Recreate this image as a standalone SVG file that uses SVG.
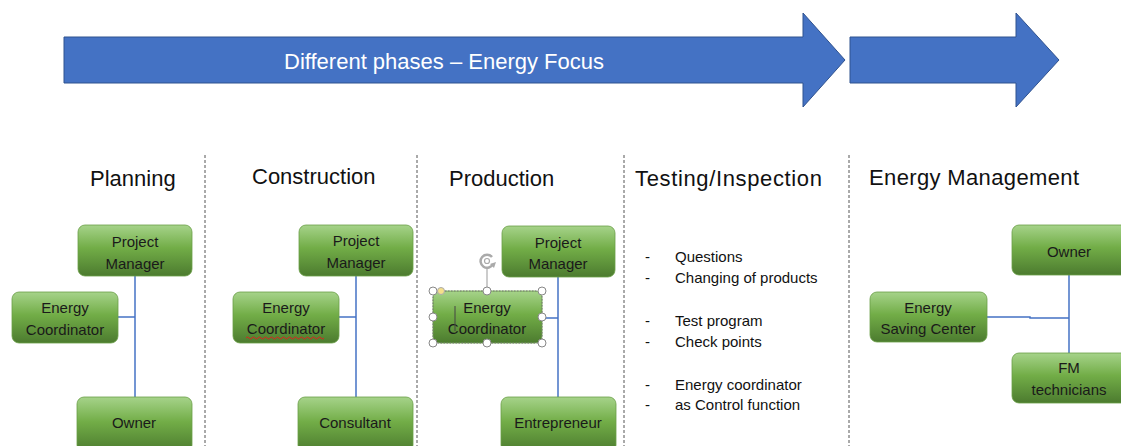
<svg xmlns="http://www.w3.org/2000/svg" width="1121" height="446" viewBox="0 0 1121 446">
<defs>
<linearGradient id="g" x1="0" y1="0" x2="0" y2="1">
<stop offset="0" stop-color="#a6d38a"/>
<stop offset="0.45" stop-color="#72ad47"/>
<stop offset="1" stop-color="#4c7b2f"/>
</linearGradient>
</defs>
<style>
.n rect{fill:url(#g);stroke:#6a9e46;stroke-width:0.8}
.n text{font-family:"Liberation Sans",Arial,sans-serif;font-size:15px;fill:#1a1a1a;text-anchor:middle}
.h{font-family:"Liberation Sans",Arial,sans-serif;font-size:22px;fill:#111}
.sep{stroke:#555;stroke-width:1;stroke-dasharray:3 2}
.c line,.c polyline{stroke:#4472c4;stroke-width:1.5;fill:none}
.t{font-family:"Liberation Sans",Arial,sans-serif;font-size:15px;fill:#111}
.hd{fill:#fff;stroke:#888;stroke-width:1}
</style>
<rect width="1121" height="446" fill="#fff"/>
<g id="arrow1">
<polygon points="64,37 803,37 803,13 845,60 803,107 803,83 64,83" fill="#4472c4" stroke="#2f528f" stroke-width="1"/>
<text x="444" y="69" font-family="Liberation Sans,Arial,sans-serif" font-size="22" fill="#fff" text-anchor="middle">Different phases – Energy Focus</text>
</g>
<g id="arrow2">
<polygon points="850,37 1016,37 1016,13 1059,60 1016,107 1016,83 850,83" fill="#4472c4" stroke="#2f528f" stroke-width="1"/>
</g>
<g id="headings">
<text class="h" x="90" y="186">Planning</text>
<text class="h" x="252" y="184">Construction</text>
<text class="h" x="449" y="186">Production</text>
<text class="h" x="635" y="186" textLength="187">Testing/Inspection</text>
<text class="h" x="869" y="185" textLength="210">Energy Management</text>
</g>
<g id="separators">
<line class="sep" x1="205" y1="155" x2="205" y2="446"/>
<line class="sep" x1="417" y1="155" x2="417" y2="446"/>
<line class="sep" x1="624" y1="155" x2="624" y2="446"/>
<line class="sep" x1="849" y1="155" x2="849" y2="446"/>
</g>
<g id="connectors" class="c">
<line x1="135" y1="276" x2="135" y2="397"/>
<line x1="118" y1="317" x2="135" y2="317"/>
<line x1="356" y1="276" x2="356" y2="397"/>
<line x1="339" y1="317" x2="356" y2="317"/>
<line x1="558" y1="277" x2="558" y2="397"/>
<line x1="542" y1="318" x2="558" y2="318"/>
<line x1="1069" y1="275" x2="1069" y2="353"/>
<polyline points="987,317 1030,317 1030,318 1069,318"/>
</g>
<g id="pl-pm" class="n"><rect x="78" y="225" width="114" height="51" rx="7"/><text x="135" y="247">Project</text><text x="135" y="269">Manager</text></g>
<g id="pl-ec" class="n"><rect x="12" y="292" width="106" height="51" rx="7"/><text x="65" y="313">Energy</text><text x="65" y="335">Coordinator</text></g>
<g id="pl-ow" class="n"><rect x="77" y="397" width="115" height="55" rx="7"/><text x="134" y="428">Owner</text></g>
<g id="co-pm" class="n"><rect x="299" y="225" width="114" height="51" rx="7"/><text x="356" y="246">Project</text><text x="356" y="268">Manager</text></g>
<g id="co-ec" class="n"><rect x="233" y="292" width="106" height="51" rx="7"/><text x="286" y="313">Energy</text><text x="286" y="334">Coordinator</text>
<path d="M246,338 q1.5,-2 3,0 t3,0 t3,0 t3,0 t3,0 t3,0 t3,0 t3,0 t3,0 t3,0 t3,0 t3,0 t3,0 t3,0 t3,0 t3,0 t3,0 t3,0 t3,0 t3,0 t3,0 t3,0 t3,0 t3,0 t3,0 t3,0" fill="none" stroke="#e02020" stroke-width="1"/></g>
<g id="co-cs" class="n"><rect x="298" y="397" width="115" height="55" rx="7"/><text x="355" y="428">Consultant</text></g>
<g id="pr-pm" class="n"><rect x="502" y="226" width="113" height="51" rx="7"/><text x="558" y="248">Project</text><text x="558" y="269">Manager</text></g>
<g id="pr-ec" class="n"><rect x="433" y="291" width="109" height="52" rx="7"/><text x="487" y="313">Energy</text><text x="487" y="334">Coordinator</text></g>
<g id="selection">
<rect x="433" y="291" width="109" height="52" fill="none" stroke="#777" stroke-width="1" stroke-dasharray="1.5 1.5"/>
<line x1="487" y1="268" x2="487" y2="291" stroke="#999" stroke-width="1"/>
<path d="M492,257 A6.5,6.5 0 1 0 493,264" fill="none" stroke="#aaa" stroke-width="2.5"/>
<polygon points="490,264 496,262 494,268" fill="#aaa"/>
<circle cx="487" cy="261" r="2.5" fill="#fff" stroke="#aaa" stroke-width="1.2"/>
<line x1="455" y1="306" x2="455" y2="331" stroke="#444" stroke-width="1"/>
<circle class="hd" cx="433" cy="291" r="4"/><circle cx="441" cy="291" r="3.5" fill="#f5e08a" stroke="#aaa" stroke-width="1"/>
<circle class="hd" cx="487" cy="291" r="4"/><circle class="hd" cx="542" cy="291" r="4"/>
<circle class="hd" cx="433" cy="317" r="4"/><circle class="hd" cx="542" cy="317" r="4"/>
<circle class="hd" cx="433" cy="343" r="4"/><circle class="hd" cx="487" cy="343" r="4"/><circle class="hd" cx="542" cy="343" r="4"/>
</g>
<g id="pr-en" class="n"><rect x="501" y="397" width="115" height="55" rx="7"/><text x="558" y="428">Entrepreneur</text></g>
<g id="testing" class="t">
<text x="645" y="262">-</text><text x="675" y="262">Questions</text>
<text x="645" y="283">-</text><text x="675" y="283">Changing of products</text>
<text x="645" y="326">-</text><text x="675" y="326">Test program</text>
<text x="645" y="347">-</text><text x="675" y="347">Check points</text>
<text x="645" y="390">-</text><text x="675" y="390">Energy coordinator</text>
<text x="645" y="410">-</text><text x="675" y="410">as Control function</text>
</g>
<g id="em-ow" class="n"><rect x="1012" y="225" width="120" height="50" rx="7"/><text x="1069" y="257">Owner</text></g>
<g id="em-es" class="n"><rect x="870" y="292" width="117" height="50" rx="7"/><text x="928" y="313">Energy</text><text x="928" y="334">Saving Center</text></g>
<g id="em-fm" class="n"><rect x="1012" y="353" width="120" height="50" rx="7"/><text x="1069" y="373">FM</text><text x="1069" y="395">technicians</text></g>
</svg>
